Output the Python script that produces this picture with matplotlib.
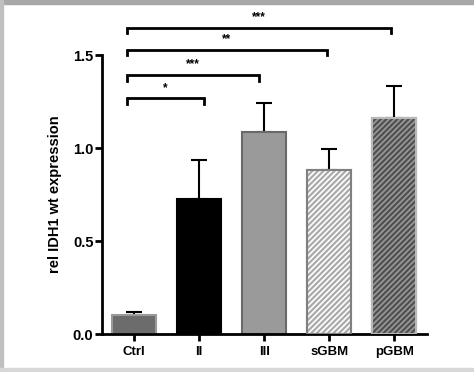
import matplotlib
matplotlib.use("Agg")
import matplotlib.pyplot as plt
from matplotlib.patches import Rectangle

# data
groups = ["Ctrl", "II", "III", "sGBM", "pGBM"]
means = [0.10, 0.725, 1.085, 0.88, 1.16]
errors = [0.02, 0.21, 0.155, 0.115, 0.175]

# significance brackets: (from, to, height, label)
sig_from = [0, 0, 0, 0]
sig_to = [1.08, 1.92, 2.96, 3.95]
sig_y = [1.267, 1.392, 1.529, 1.647]
sig_text = ["*", "***", "**", "***"]

plt.rcParams["font.family"] = ["Liberation Sans", "DejaVu Sans"]
plt.rcParams["font.weight"] = "bold"
plt.rcParams["hatch.linewidth"] = 1.6

fig = plt.figure(figsize=(4.74, 3.72), dpi=100)
ax = fig.add_axes([0.2146, 0.102, 0.6854, 0.750])

faces = ["#6c6c6c", "#000000", "#9a9a9a", "#ffffff", "#9a9a9a"]
edges = ["#9a9a9a", "#000000", "#6a6a6a", "#808080", "#b8b8b8"]
hatches = [None, None, None, "//////", "//////"]
hatch_cols = [None, None, None, "#aaaaaa", "#505050"]

x = range(len(groups))
for i in x:
	b = ax.bar(i, means[i], width=0.68, color=faces[i], edgecolor=edges[i],
		linewidth=1.5, hatch=hatches[i], zorder=2)
	if hatches[i]:
		b[0].set_edgecolor(hatch_cols[i])
		# draw edge separately so hatch colour can differ
		ax.bar(i, means[i], width=0.68, fill=False, edgecolor=edges[i],
			linewidth=1.5, zorder=3)

ax.errorbar(list(x), means, yerr=[[0] * len(errors), errors], fmt="none",
	ecolor="black", elinewidth=1.5, capsize=6, capthick=1.5, zorder=1)

for a, b, y, t in zip(sig_from, sig_to, sig_y, sig_text):
	x0 = a - 0.11
	x1 = b
	drop = 0.03
	ax.plot([x0, x0, x1, x1], [y - drop, y, y, y - drop], color="black",
		lw=2, clip_on=False, solid_joinstyle="miter")
	ax.text((x0 + x1) / 2, y + 0.025, t, ha="center", va="bottom",
		fontsize=8.5, clip_on=False)

ax.set_xlim(-0.5, 4.5)
ax.set_ylim(0, 1.5)
ax.set_yticks([0.0, 0.5, 1.0, 1.5])
ax.set_yticklabels(["0.0", "0.5", "1.0", "1.5"])
ax.set_xticks(list(x))
ax.set_xticklabels(groups)
ax.tick_params(axis="both", width=2, length=5)
ax.tick_params(axis="x", labelsize=9.5)
ax.tick_params(axis="y", labelsize=10.5, pad=1)
ax.set_ylabel("rel IDH1 wt expression", fontsize=10.5, fontweight="bold", labelpad=8)

for s in ["top", "right"]:
	ax.spines[s].set_visible(False)
ax.spines["left"].set_linewidth(2)
ax.spines["bottom"].set_linewidth(2)

# grey frame of the scanned figure
fig.patches.append(Rectangle((0, 0.99), 1, 0.01, transform=fig.transFigure,
	color="#a8a8a8", zorder=0))
fig.patches.append(Rectangle((0, 0), 0.007, 1, transform=fig.transFigure,
	color="#c0c0c0", zorder=0))
fig.patches.append(Rectangle((0, 0), 1, 0.01, transform=fig.transFigure,
	color="#d8d8d8", zorder=0))

fig.savefig("out.png", dpi=100)
